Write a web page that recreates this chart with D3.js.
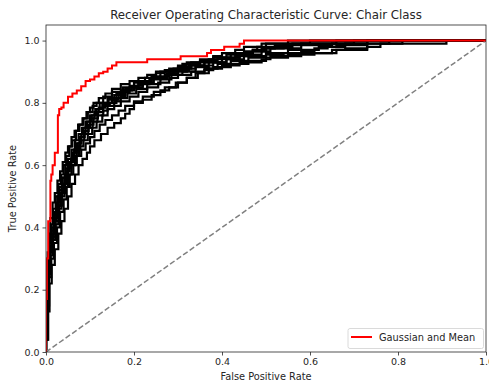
<!DOCTYPE html>
<html>
<head>
<meta charset="utf-8">
<script src="https://cdn.jsdelivr.net/npm/d3@7"></script>
<style>
  body { margin: 0; background: #fff; }
  text { font-family: "DejaVu Sans", sans-serif; fill: #262626; }
</style>
</head>
<body>
<svg id="chart" width="489" height="384"></svg>
<script>
// ---- data ----
const chartTitle = "Receiver Operating Characteristic Curve: Chair Class";
const xLabel = "False Positive Rate";
const yLabel = "True Positive Rate";
const xTicks = [0.0, 0.2, 0.4, 0.6, 0.8, 1.0];
const yTicks = [0.0, 0.2, 0.4, 0.6, 0.8, 1.0];
const legendLabel = "Gaussian and Mean";

// Main (red) curve: [fpr, tpr] step points
const meanCurve = [[0,0],[0,0.17],[0.002,0.3],[0.005,0.42],[0.01,0.55],[0.012,0.57],[0.015,0.6],[0.02,0.64],[0.027,0.76],[0.03,0.78],[0.035,0.785],[0.04,0.8],[0.05,0.82],[0.06,0.83],[0.07,0.84],[0.08,0.853],[0.09,0.87],[0.1,0.875],[0.11,0.885],[0.12,0.895],[0.13,0.9],[0.14,0.91],[0.15,0.92],[0.16,0.93],[0.23,0.94],[0.306,0.95],[0.366,0.96],[0.375,0.97],[0.405,0.98],[0.44,0.99],[0.45,1.0],[1,1]];

// Individual (black) curves
const fold1 = [[0,0],[0,0.1],[0.002,0.22],[0.004,0.3],[0.007,0.36],[0.011,0.41],[0.016,0.46],[0.022,0.5],[0.028,0.54],[0.034,0.57],[0.04,0.6],[0.046,0.63],[0.053,0.66],[0.06,0.68],[0.068,0.71],[0.076,0.73],[0.085,0.75],[0.095,0.77],[0.106,0.79],[0.115,0.8],[0.13,0.82],[0.15,0.835],[0.175,0.85],[0.2,0.865],[0.225,0.88],[0.25,0.895],[0.27,0.905],[0.3,0.915],[0.33,0.93],[0.37,0.94],[0.41,0.955],[0.45,0.965],[0.49,0.975],[0.52,0.985],[0.55,0.99],[0.6,1.0],[1,1]];
const fold2 = [[0,0],[0,0.06],[0.003,0.18],[0.005,0.28],[0.009,0.34],[0.013,0.4],[0.019,0.45],[0.026,0.5],[0.031,0.53],[0.037,0.56],[0.044,0.6],[0.05,0.62],[0.058,0.65],[0.066,0.68],[0.074,0.7],[0.082,0.72],[0.09,0.74],[0.1,0.76],[0.112,0.78],[0.122,0.8],[0.14,0.815],[0.16,0.83],[0.18,0.845],[0.19,0.855],[0.21,0.87],[0.24,0.885],[0.26,0.9],[0.29,0.91],[0.31,0.925],[0.35,0.935],[0.38,0.945],[0.42,0.96],[0.47,0.97],[0.5,0.98],[0.56,0.99],[0.66,1.0],[1,1]];
const fold3 = [[0,0],[0,0.04],[0.004,0.14],[0.006,0.25],[0.01,0.31],[0.016,0.37],[0.022,0.42],[0.03,0.47],[0.036,0.51],[0.043,0.55],[0.05,0.59],[0.057,0.62],[0.064,0.64],[0.07,0.67],[0.079,0.69],[0.088,0.71],[0.097,0.73],[0.108,0.75],[0.118,0.77],[0.13,0.79],[0.145,0.8],[0.16,0.815],[0.185,0.83],[0.205,0.845],[0.23,0.86],[0.26,0.875],[0.285,0.89],[0.31,0.9],[0.34,0.915],[0.37,0.93],[0.41,0.94],[0.45,0.95],[0.5,0.96],[0.55,0.97],[0.62,0.98],[0.68,0.99],[0.73,1.0],[1,1]];
const fold4 = [[0,0],[0,0.08],[0.002,0.19],[0.005,0.29],[0.008,0.35],[0.012,0.39],[0.018,0.44],[0.024,0.48],[0.03,0.52],[0.038,0.56],[0.045,0.59],[0.052,0.61],[0.06,0.64],[0.068,0.66],[0.076,0.69],[0.085,0.72],[0.093,0.74],[0.104,0.76],[0.115,0.78],[0.128,0.795],[0.142,0.81],[0.155,0.825],[0.17,0.84],[0.195,0.85],[0.22,0.865],[0.245,0.88],[0.275,0.895],[0.3,0.905],[0.325,0.92],[0.36,0.93],[0.4,0.945],[0.44,0.955],[0.49,0.965],[0.51,0.975],[0.58,0.985],[0.65,0.99],[0.81,1.0],[1,1]];
const fold5 = [[0,0],[0,0.05],[0.004,0.15],[0.007,0.24],[0.012,0.3],[0.018,0.35],[0.025,0.4],[0.032,0.45],[0.04,0.49],[0.047,0.53],[0.054,0.57],[0.062,0.6],[0.07,0.63],[0.08,0.65],[0.09,0.67],[0.1,0.69],[0.11,0.71],[0.122,0.73],[0.135,0.745],[0.15,0.76],[0.165,0.775],[0.18,0.79],[0.2,0.805],[0.22,0.82],[0.245,0.835],[0.27,0.85],[0.295,0.865],[0.32,0.88],[0.345,0.895],[0.37,0.91],[0.4,0.92],[0.44,0.93],[0.49,0.94],[0.51,0.95],[0.58,0.96],[0.65,0.97],[0.73,0.98],[0.76,0.99],[0.78,1.0],[1,1]];
const fold6 = [[0,0],[0,0.04],[0.005,0.13],[0.008,0.22],[0.013,0.28],[0.02,0.33],[0.028,0.38],[0.035,0.42],[0.042,0.46],[0.05,0.5],[0.058,0.54],[0.066,0.57],[0.074,0.6],[0.083,0.62],[0.093,0.64],[0.1,0.66],[0.11,0.68],[0.125,0.7],[0.14,0.72],[0.155,0.735],[0.17,0.75],[0.18,0.765],[0.19,0.78],[0.2,0.8],[0.22,0.81],[0.24,0.825],[0.26,0.84],[0.28,0.85],[0.3,0.865],[0.32,0.88],[0.34,0.895],[0.36,0.905],[0.38,0.915],[0.42,0.925],[0.46,0.935],[0.5,0.945],[0.55,0.955],[0.61,0.96],[0.66,0.97],[0.68,0.975],[0.73,1.0],[1,1]];
const fold7 = [[0,0],[0,0.07],[0.003,0.2],[0.006,0.27],[0.01,0.33],[0.014,0.38],[0.02,0.43],[0.026,0.47],[0.033,0.51],[0.039,0.54],[0.047,0.58],[0.054,0.61],[0.062,0.63],[0.07,0.65],[0.078,0.68],[0.087,0.7],[0.096,0.72],[0.106,0.74],[0.117,0.76],[0.13,0.775],[0.14,0.79],[0.155,0.805],[0.17,0.82],[0.18,0.835],[0.19,0.85],[0.21,0.86],[0.235,0.875],[0.26,0.885],[0.28,0.9],[0.3,0.91],[0.33,0.92],[0.36,0.935],[0.39,0.945],[0.43,0.95],[0.46,0.96],[0.47,0.97],[0.48,0.98],[0.49,0.99],[0.91,1.0],[1,1]];
const fold8 = [[0,0],[0,0.09],[0.002,0.24],[0.004,0.32],[0.007,0.38],[0.01,0.43],[0.015,0.48],[0.02,0.51],[0.026,0.55],[0.032,0.58],[0.038,0.61],[0.044,0.64],[0.05,0.66],[0.058,0.69],[0.065,0.71],[0.073,0.73],[0.083,0.75],[0.092,0.77],[0.1,0.785],[0.108,0.8],[0.12,0.815],[0.135,0.83],[0.15,0.845],[0.17,0.86],[0.19,0.87],[0.21,0.88],[0.23,0.89],[0.25,0.9],[0.28,0.91],[0.3,0.92],[0.32,0.93],[0.35,0.94],[0.38,0.95],[0.4,0.96],[0.43,0.97],[0.45,0.98],[0.5,0.99],[0.55,1.0],[1,1]];
const fold9 = [[0,0],[0,0.05],[0.003,0.16],[0.006,0.26],[0.01,0.32],[0.015,0.36],[0.021,0.41],[0.028,0.46],[0.035,0.5],[0.042,0.53],[0.05,0.57],[0.058,0.6],[0.066,0.63],[0.075,0.66],[0.085,0.68],[0.095,0.7],[0.105,0.72],[0.115,0.74],[0.128,0.76],[0.14,0.78],[0.155,0.79],[0.17,0.805],[0.19,0.82],[0.21,0.835],[0.23,0.85],[0.255,0.865],[0.28,0.88],[0.3,0.89],[0.33,0.9],[0.36,0.91],[0.39,0.925],[0.42,0.935],[0.46,0.945],[0.5,0.955],[0.54,0.96],[0.58,0.965],[0.61,0.975],[0.64,0.98],[0.66,0.985],[0.73,1.0],[1,1]];
const fold10 = [[0,0],[0,0.06],[0.002,0.17],[0.004,0.26],[0.008,0.32],[0.012,0.37],[0.017,0.42],[0.023,0.46],[0.029,0.5],[0.036,0.54],[0.043,0.57],[0.05,0.6],[0.057,0.62],[0.064,0.65],[0.072,0.67],[0.08,0.7],[0.09,0.72],[0.1,0.75],[0.11,0.77],[0.12,0.785],[0.135,0.8],[0.15,0.81],[0.165,0.825],[0.18,0.84],[0.2,0.855],[0.22,0.87],[0.24,0.88],[0.27,0.89],[0.29,0.9],[0.32,0.91],[0.34,0.92],[0.38,0.93],[0.41,0.94],[0.44,0.955],[0.47,0.965],[0.5,0.975],[0.54,0.985],[0.58,0.99],[0.7,1.0],[1,1]];
const foldCurves = [fold1, fold2, fold3, fold4, fold5, fold6, fold7, fold8, fold9, fold10];
const chanceLine = [[0,0],[1,1]];

// ---- layout ----
const svg = d3.select("#chart");
const mLeft = 46, mRight = 486, mTop = 25, mBottom = 352;
const x = d3.scaleLinear().domain([0, 1]).range([mLeft, mRight]);
const y = d3.scaleLinear().domain([0, 1.05]).range([mBottom, mTop]);

svg.append("defs").append("clipPath").attr("id", "clip")
  .append("rect").attr("x", mLeft).attr("y", mTop).attr("width", mRight - mLeft).attr("height", mBottom - mTop);

const plot = svg.append("g").attr("clip-path", "url(#clip)");

const stepLine = d3.line().x(d => x(d[0])).y(d => y(d[1])).curve(d3.curveStepAfter);
const straight = d3.line().x(d => x(d[0])).y(d => y(d[1]));

plot.selectAll("path.fold").data(foldCurves).join("path")
  .attr("class", "fold")
  .attr("d", stepLine)
  .attr("fill", "none")
  .attr("stroke", "#000")
  .attr("stroke-width", 2.2);

plot.append("path").datum(chanceLine)
  .attr("d", straight)
  .attr("fill", "none")
  .attr("stroke", "#808080")
  .attr("stroke-width", 1.5)
  .attr("stroke-dasharray", "5.5,2.5");

plot.append("path").datum(meanCurve)
  .attr("d", stepLine)
  .attr("fill", "none")
  .attr("stroke", "#ff0000")
  .attr("stroke-width", 2);

// axes
const xAxis = d3.axisBottom(x).tickValues(xTicks).tickFormat(d3.format(".1f")).tickSize(3.5).tickPadding(3);
const yAxis = d3.axisLeft(y).tickValues(yTicks).tickFormat(d3.format(".1f")).tickSize(3.5).tickPadding(3);

const gx = svg.append("g").attr("transform", `translate(0,${mBottom})`).call(xAxis);
const gy = svg.append("g").attr("transform", `translate(${mLeft},0)`).call(yAxis);
[gx, gy].forEach(g => {
  g.select(".domain").remove();
  g.selectAll(".tick line").attr("stroke", "#262626").attr("stroke-width", 0.8);
  g.selectAll(".tick text").attr("font-size", 9.5).attr("fill", "#262626").style("font-family", "DejaVu Sans, sans-serif");
});

// frame
svg.append("rect").attr("x", mLeft).attr("y", mTop).attr("width", mRight - mLeft).attr("height", mBottom - mTop)
  .attr("fill", "none").attr("stroke", "#262626").attr("stroke-width", 0.8);

// labels
svg.append("text").attr("x", (mLeft + mRight) / 2).attr("y", 19).attr("text-anchor", "middle")
  .attr("font-size", 11.8).text(chartTitle);
svg.append("text").attr("x", (mLeft + mRight) / 2).attr("y", 380).attr("text-anchor", "middle")
  .attr("font-size", 9.8).text(xLabel);
svg.append("text").attr("transform", `translate(16,${(mTop + mBottom) / 2}) rotate(-90)`).attr("text-anchor", "middle")
  .attr("font-size", 9.8).text(yLabel);

// legend
const lg = svg.append("g");
lg.append("rect").attr("x", 348).attr("y", 328.5).attr("width", 135.5).attr("height", 20).attr("rx", 2)
  .attr("fill", "#fff").attr("fill-opacity", 0.8).attr("stroke", "#d0d0d0").attr("stroke-width", 0.8);
lg.append("line").attr("x1", 351).attr("x2", 372).attr("y1", 337).attr("y2", 337)
  .attr("stroke", "#ff0000").attr("stroke-width", 2);
lg.append("text").attr("x", 379).attr("y", 340.5).attr("font-size", 9.8).text(legendLabel);
</script>
</body>
</html>
